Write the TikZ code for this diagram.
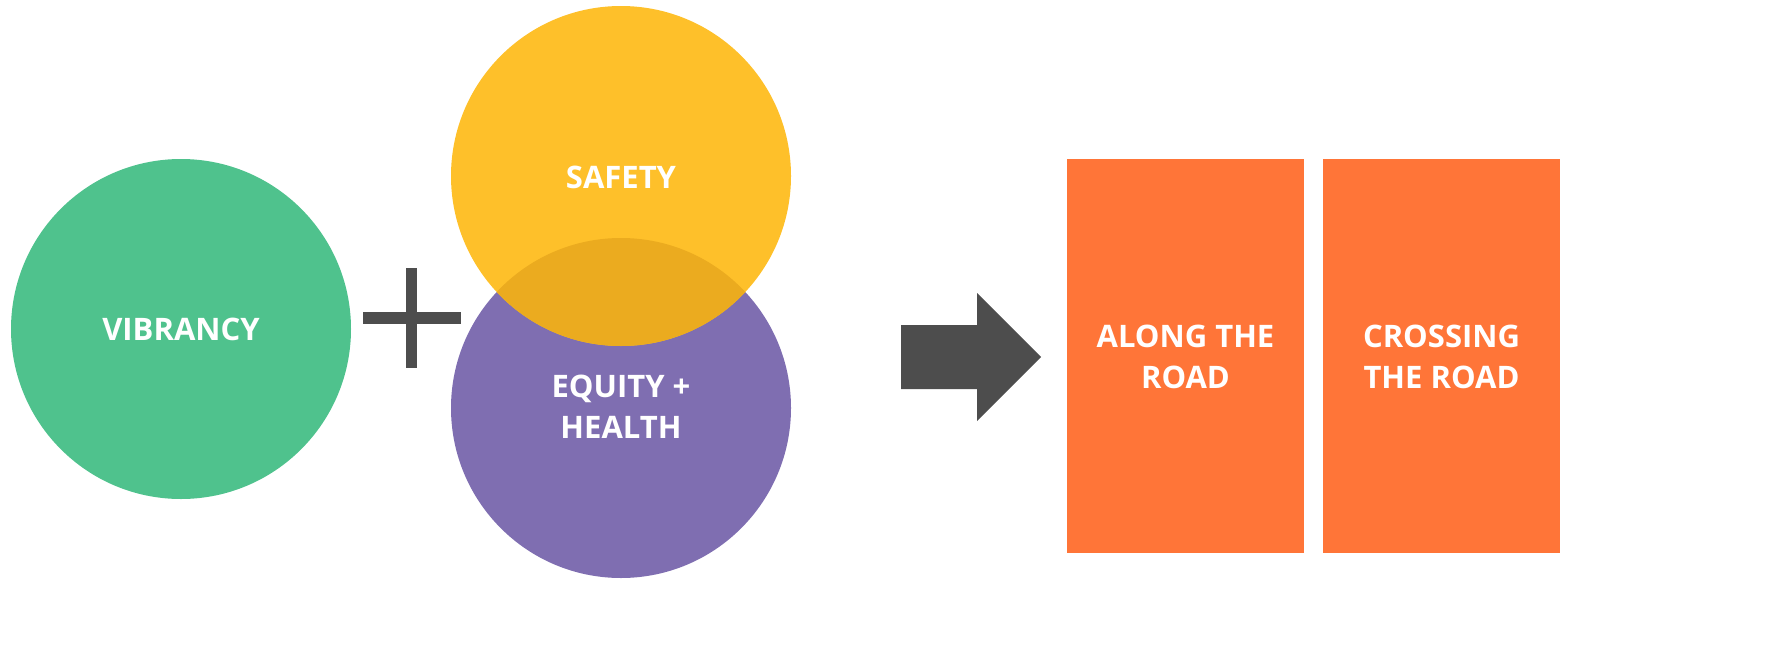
\documentclass[tikz,border=0pt]{standalone}
\usepackage{fontspec}
\setmainfont{Open Sans}
\definecolor{cgreen}{HTML}{4FC28D}
\definecolor{cyellow}{HTML}{FEC02A}
\definecolor{cpurple}{HTML}{7F6EB1}
\definecolor{clens}{HTML}{EBAB1F}
\definecolor{cgrey}{HTML}{4D4D4D}
\definecolor{corange}{HTML}{FF7538}
\begin{document}
\begin{tikzpicture}[x=1pt,y=-1pt,
  lbl/.style={text=white,font=\bfseries\fontsize{31}{41}\selectfont,align=center,inner sep=0pt},
  circ/.style={circle,minimum size=340pt,inner sep=0pt}]
\useasboundingbox (0,0) rectangle (1775,656);
% circles
\node[circ,fill=cgreen] (vib) at (181,329) {};
\node[circ,fill=cpurple] (eq) at (621,408) {};
\node[circ,fill=cyellow] (saf) at (621,176) {};
\begin{scope}
  \clip (621,176) circle (170);
  \fill[clens] (621,408) circle (170);
\end{scope}
\node[lbl] (tvib) at (181,329) {VIBRANCY};
\node[lbl] (tsaf) at (621,177) {SAFETY};
\node[lbl] (teq) at (621,407) {EQUITY +\\HEALTH};
% plus
\fill[cgrey] (406,268) rectangle (417,368);
\fill[cgrey] (363,312) rectangle (461,324);
% arrow
\fill[cgrey] (901,325) -- (977,325) -- (977,293) -- (1041,357) -- (977,421) -- (977,389) -- (901,389) -- cycle;
% boxes
\node[fill=corange,minimum width=237pt,minimum height=394pt,inner sep=0pt] (along) at (1185.5,356) {};
\node[fill=corange,minimum width=237pt,minimum height=394pt,inner sep=0pt] (cross) at (1441.5,356) {};
\node[lbl] (talong) at (1185.5,357) {ALONG THE\\ROAD};
\node[lbl] (tcross) at (1441.5,357) {CROSSING\\THE ROAD};
\end{tikzpicture}
\end{document}
